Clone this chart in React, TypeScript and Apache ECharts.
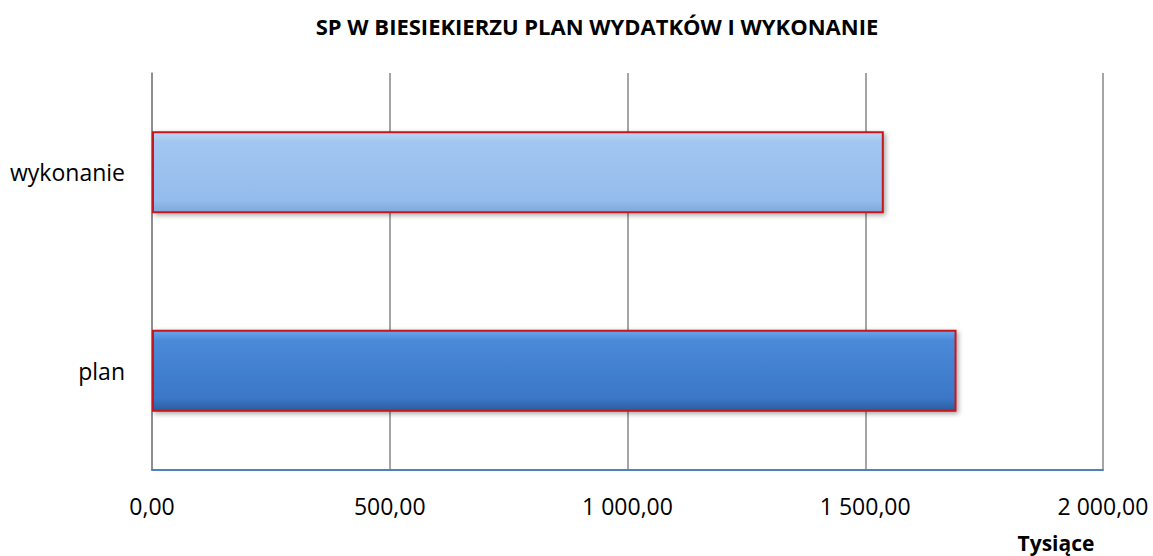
import React, { useEffect, useRef } from "react";
import * as echarts from "echarts";

const categories = ["plan", "wykonanie"];
const values = [1692, 1539];
const xTicks = { min: 0, max: 2000, interval: 500 };
const title = "SP W BIESIEKIERZU PLAN WYDATKÓW I WYKONANIE";
const unitLabel = "Tysiące";

const fmt = (v: number) => {
  const fixed = v.toFixed(2);
  const [int, dec] = fixed.split(".");
  const withSpaces = int.replace(/\B(?=(\d{3})+(?!\d))/g, " ");
  return withSpaces + "," + dec;
};

const barColors = [
  new echarts.graphic.LinearGradient(0, 0, 0, 1, [
    { offset: 0, color: "#6aa6ec" },
    { offset: 0.12, color: "#4a8ad8" },
    { offset: 0.85, color: "#3a77c6" },
    { offset: 1, color: "#2c5d9e" },
  ]),
  new echarts.graphic.LinearGradient(0, 0, 0, 1, [
    { offset: 0, color: "#bcd7f6" },
    { offset: 0.12, color: "#a2c6f1" },
    { offset: 0.85, color: "#94bcec" },
    { offset: 1, color: "#7fa7d8" },
  ]),
];

export default function App() {
  const ref = useRef<HTMLDivElement>(null);
  useEffect(() => {
    if (!ref.current) return;
    const chart = echarts.init(ref.current, null, { renderer: "svg" });
    const font = "'Open Sans', 'Noto Sans', sans-serif";
    chart.setOption({
      animation: false,
      backgroundColor: "#ffffff",
      grid: { left: 152, right: 50, top: 73, bottom: 86 },
      graphic: [
        {
          type: "text",
          x: 597,
          y: 26,
          style: {
            text: title,
            font: `bold 22px ${font}`,
            fill: "#000",
            align: "center",
            verticalAlign: "middle",
          },
        },
        {
          type: "text",
          x: 1056,
          y: 543,
          style: {
            text: unitLabel,
            font: `bold 21px ${font}`,
            fill: "#000",
            align: "center",
            verticalAlign: "middle",
          },
        },
      ],
      xAxis: {
        type: "value",
        min: xTicks.min,
        max: xTicks.max,
        interval: xTicks.interval,
        axisLine: { show: true, lineStyle: { color: "#4f81bd", width: 2 } },
        axisTick: { show: false },
        splitLine: { show: true, lineStyle: { color: "#878787", width: 1.5 } },
        axisLabel: {
          margin: 24,
          fontSize: 23,
          fontFamily: font,
          color: "#000",
          formatter: (v: number) => fmt(v),
        },
      },
      yAxis: {
        type: "category",
        data: categories,
        axisLine: { show: true, lineStyle: { color: "#878787", width: 1.5 } },
        axisTick: { show: false },
        axisLabel: {
          margin: 27,
          fontSize: 23,
          fontFamily: font,
          color: "#000",
        },
      },
      series: [
        {
          type: "bar",
          barWidth: 82,
          data: values.map((v, i) => ({
            value: v,
            itemStyle: {
              color: barColors[i],
              borderColor: "#c8141e",
              borderWidth: 2,
              shadowColor: "rgba(0,0,0,0.35)",
              shadowBlur: 5,
              shadowOffsetX: 2,
              shadowOffsetY: 2,
            },
          })),
        },
      ],
    });
    return () => chart.dispose();
  }, []);
  return (
    <div
      ref={ref}
      style={{ position: "fixed", left: 0, top: 0, width: 1153, height: 556 }}
    />
  );
}
